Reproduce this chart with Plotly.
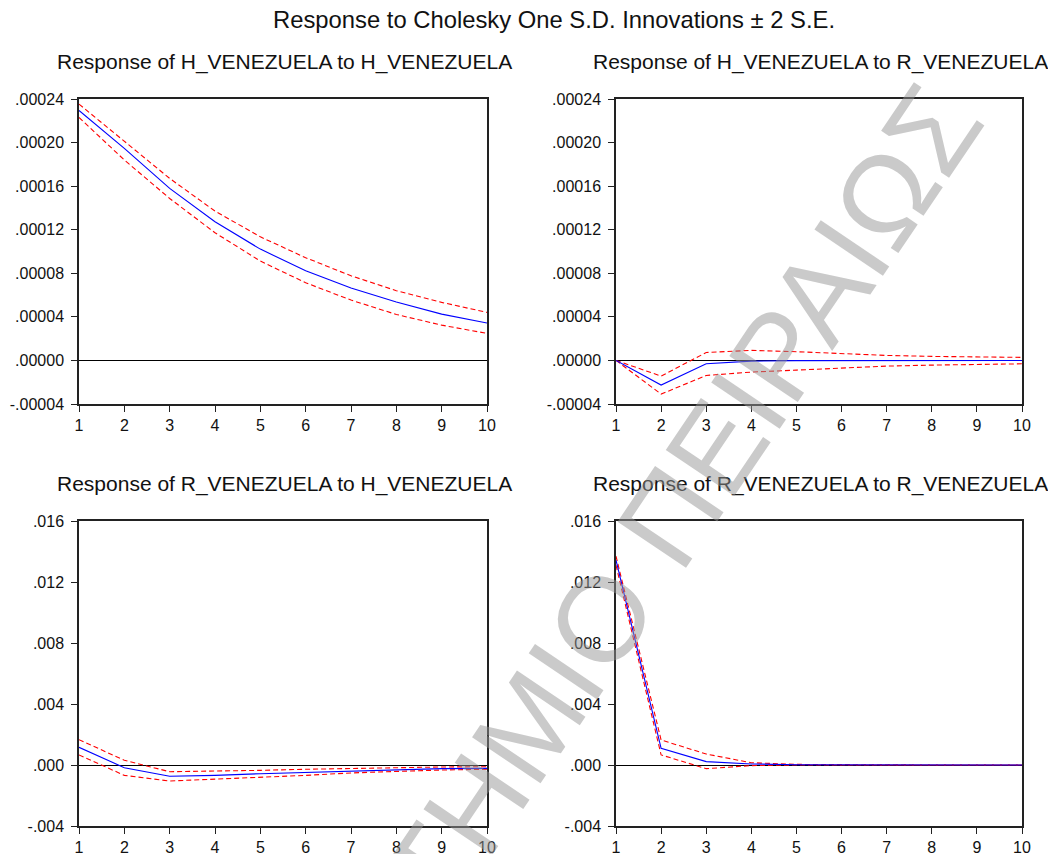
import plotly.graph_objects as go

# ---------------- data ----------------
periods = [1, 2, 3, 4, 5, 6, 7, 8, 9, 10]

# Response of H_VENEZUELA to H_VENEZUELA
hh_resp = [0.0002295, 0.0001947, 0.0001580, 0.0001273, 0.0001022, 0.0000823, 0.0000664, 0.0000536, 0.0000425, 0.0000343]
hh_upper = [0.0002353, 0.0002014, 0.0001671, 0.0001371, 0.0001135, 0.0000943, 0.0000777, 0.0000640, 0.0000533, 0.0000441]
hh_lower = [0.0002231, 0.0001840, 0.0001487, 0.0001172, 0.0000912, 0.0000713, 0.0000554, 0.0000422, 0.0000324, 0.0000248]

# Response of H_VENEZUELA to R_VENEZUELA
hr_resp = [0.0, -0.0000226, -0.0000031, -0.0000006, -0.0000002, -0.0000001, 0.0, 0.0, 0.0, 0.0]
hr_upper = [0.0, -0.0000144, 0.0000073, 0.0000092, 0.0000080, 0.0000061, 0.0000046, 0.0000037, 0.0000030, 0.0000028]
hr_lower = [0.0, -0.0000309, -0.0000138, -0.0000107, -0.0000089, -0.0000067, -0.0000052, -0.0000043, -0.0000034, -0.0000031]

# Response of R_VENEZUELA to H_VENEZUELA
rh_resp = [0.00116, -0.000175, -0.00074, -0.00068, -0.00057, -0.00048, -0.00039, -0.00030, -0.00024, -0.00022]
rh_upper = [0.00166, 0.00031, -0.00044, -0.00041, -0.00035, -0.00028, -0.00022, -0.00017, -0.00013, -0.00011]
rh_lower = [0.00066, -0.00068, -0.00105, -0.00094, -0.00081, -0.00068, -0.00052, -0.00041, -0.00033, -0.00028]

# Response of R_VENEZUELA to R_VENEZUELA
rr_resp = [0.01343, 0.00109, 0.00022, 0.00007, 0.00002, 0.00001, 0.0, 0.0, 0.0, 0.0]
rr_upper = [0.01369, 0.00164, 0.00072, 0.00015, 0.00004, 0.00001, 0.00001, 0.0, 0.0, 0.0]
rr_lower = [0.01310, 0.00066, -0.00024, -0.00004, 0.0, 0.0, 0.0, 0.0, 0.0, 0.0]

top_tickvals = [-0.00004, 0.0, 0.00004, 0.00008, 0.00012, 0.00016, 0.00020, 0.00024]
top_ticktext = ["-.00004", ".00000", ".00004", ".00008", ".00012", ".00016", ".00020", ".00024"]
bot_tickvals = [-0.004, 0.0, 0.004, 0.008, 0.012, 0.016]
bot_ticktext = ["-.004", ".000", ".004", ".008", ".012", ".016"]

main_title = "Response to Cholesky One S.D. Innovations \u00b1 2 S.E."
panel_titles = [
    "Response of H_VENEZUELA to H_VENEZUELA",
    "Response of H_VENEZUELA to R_VENEZUELA",
    "Response of R_VENEZUELA to H_VENEZUELA",
    "Response of R_VENEZUELA to R_VENEZUELA",
]
watermark = "\u03a0\u0391\u039d\u0395\u03a0\u0399\u03a3\u03a4\u0397\u039c\u0399\u039f \u03a0\u0395\u0399\u03a1\u0391\u0399\u03a9\u03a3"

panels = [
    (hh_resp, hh_upper, hh_lower, top_tickvals, top_ticktext),
    (hr_resp, hr_upper, hr_lower, top_tickvals, top_ticktext),
    (rh_resp, rh_upper, rh_lower, bot_tickvals, bot_ticktext),
    (rr_resp, rr_upper, rr_lower, bot_tickvals, bot_ticktext),
]

# ---------------- layout geometry ----------------
W, H = 1056, 854
OFF = 8  # the page body offsets the figure by 8px


def px(xp):
    return (xp - OFF) / W


def py(yp):
    return 1 - (yp - OFF) / H


FONT = "Arial, Liberation Sans, sans-serif"
x_doms = [(px(79), px(487)), (px(616), px(1022))]
y_doms = [(py(404), py(99)), (py(826), py(521))]
title_y = [py(62), py(484)]

fig = go.Figure()
layout_axes = {}
annotations = []

for i, (resp, up, lo, tv, tt) in enumerate(panels):
    row, col = divmod(i, 2)
    n = i + 1
    xa = "x" if n == 1 else f"x{n}"
    ya = "y" if n == 1 else f"y{n}"
    for ser, color, dash in [(up, "#ff0000", "dash"), (lo, "#ff0000", "dash"), (resp, "#0000ff", "solid")]:
        fig.add_trace(go.Scatter(
            x=periods, y=ser, mode="lines", xaxis=xa, yaxis=ya,
            line=dict(color=color, width=1.1, dash="5px,3px" if dash == "dash" else "solid"),
            showlegend=False, hoverinfo="skip",
        ))
    xkey = "xaxis" if n == 1 else f"xaxis{n}"
    ykey = "yaxis" if n == 1 else f"yaxis{n}"
    layout_axes[xkey] = dict(
        domain=list(x_doms[col]), anchor=ya, range=[1, 10], automargin=False,
        tickmode="array", tickvals=periods, ticktext=[str(p) for p in periods],
        ticks="outside", ticklen=6, tickcolor="#222", tickwidth=1,
        showline=True, mirror=True, linecolor="#222", linewidth=1.5,
        showgrid=False, zeroline=False,
        tickfont=dict(family=FONT, size=16, color="#111"),
    )
    layout_axes[ykey] = dict(
        domain=list(y_doms[row]), anchor=xa, range=[tv[0], tv[-1]], automargin=False,
        tickmode="array", tickvals=tv, ticktext=tt,
        ticks="outside", ticklen=6, tickcolor="#222", tickwidth=1,
        ticklabelstandoff=4,
        showline=True, mirror=True, linecolor="#222", linewidth=1.5,
        showgrid=False, zeroline=True, zerolinecolor="#000", zerolinewidth=1,
        tickfont=dict(family=FONT, size=16, color="#111"),
    )
    xc = (x_doms[col][0] + x_doms[col][1]) / 2
    annotations.append(dict(
        text=panel_titles[i], x=xc + 1.5 / W, y=title_y[row],
        xref="paper", yref="paper", xanchor="center", yanchor="middle",
        showarrow=False, font=dict(family=FONT, size=21, color="#111"),
    ))

annotations.append(dict(
    text=main_title, x=px(553.5), y=py(19), xref="paper", yref="paper",
    xanchor="center", yanchor="middle", showarrow=False,
    font=dict(family=FONT, size=23.8, color="#111"),
))

annotations.append(dict(
    text=watermark, x=px(534), y=py(718), xref="paper", yref="paper",
    xanchor="center", yanchor="middle", showarrow=False, textangle=-56,
    font=dict(family=FONT, size=120, color="rgba(150,150,150,0.5)"),
))

fig.update_layout(
    width=W, height=H, margin=dict(l=0, r=0, t=0, b=0, autoexpand=False),
    paper_bgcolor="white", plot_bgcolor="white",
    annotations=annotations, **layout_axes,
)

fig.write_html("out.html")
